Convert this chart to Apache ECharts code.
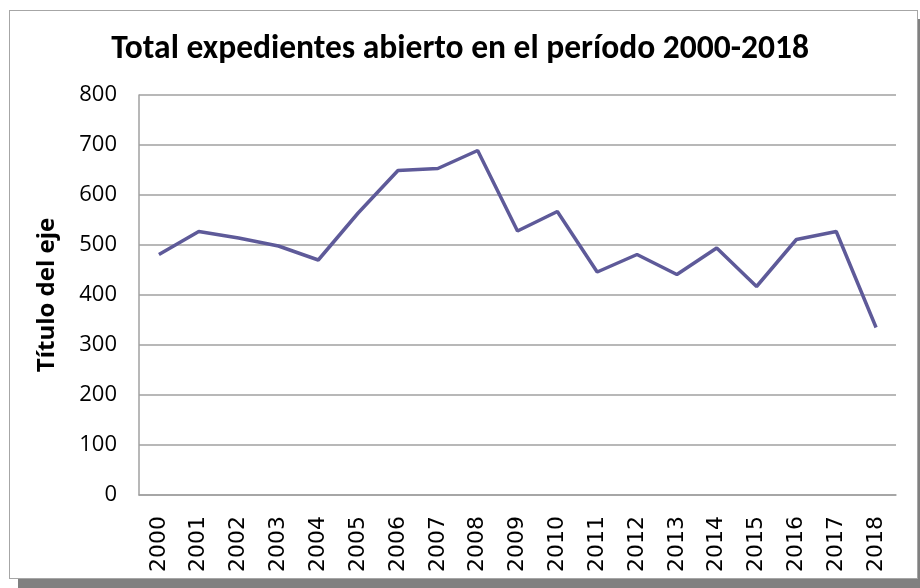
<!DOCTYPE html>
<html>
<head>
<meta charset="utf-8">
<script src="https://cdn.jsdelivr.net/npm/echarts@6/dist/echarts.min.js"></script>
<style>
  html, body { margin: 0; padding: 0; background: #fff; }
  #frame {
    position: absolute; left: 9px; top: 10px; width: 907px; height: 567px;
    border: 1px solid #a6a6a6; background: #fff;
    box-shadow: 9px 9px 0 0 #808080;
  }
  #chart { position: absolute; left: 0; top: 0; width: 920px; height: 588px; }
</style>
</head>
<body>
<div id="frame"></div>
<div id="chart"></div>
<script>
// datos
const years = ['2000', '2001', '2002', '2003', '2004', '2005', '2006', '2007', '2008', '2009',
  '2010', '2011', '2012', '2013', '2014', '2015', '2016', '2017', '2018']
const expedientes = [481, 527, 514, 498, 470, 564, 649, 653, 689, 528,
  567, 446, 481, 441, 494, 417, 511, 527, 335]
const yTicks = [0, 100, 200, 300, 400, 500, 600, 700, 800]

const chart = echarts.init(document.getElementById('chart'), null, { renderer: 'canvas' })

const option = {
  animation: false,
  backgroundColor: 'transparent',
  title: {
    text: 'Total expedientes abierto en el período 2000-2018',
    left: 'center',
    top: 28,
    textStyle: {
      fontFamily: 'Carlito, "Open Sans", sans-serif',
      fontWeight: 'bold',
      fontSize: 33.5,
      color: '#000'
    }
  },
  grid: { left: 139, right: 24, top: 95, bottom: 93 },
  xAxis: {
    type: 'category',
    data: years,
    boundaryGap: true,
    axisLine: { lineStyle: { color: '#a0a0a0', width: 1.5 } },
    axisTick: { show: false },
    axisLabel: {
      rotate: 90,
      margin: 21,
      fontFamily: 'DejaVu Sans',
      fontSize: 22,
      color: '#000'
    }
  },
  yAxis: {
    type: 'value',
    min: yTicks[0],
    max: yTicks[yTicks.length - 1],
    interval: 100,
    name: 'Título del eje',
    nameLocation: 'middle',
    nameGap: 80,
    nameTextStyle: {
      fontFamily: '"Open Sans", sans-serif',
      fontWeight: 'bold',
      fontSize: 24,
      color: '#000'
    },
    axisLine: { show: true, lineStyle: { color: '#a0a0a0', width: 1.5 } },
    axisTick: { show: false },
    axisLabel: {
      margin: 22,
      fontFamily: '"Open Sans", sans-serif',
      fontSize: 22,
      color: '#000'
    },
    splitLine: { lineStyle: { color: '#a0a0a0', width: 1.5 } }
  },
  series: [{
    type: 'line',
    data: expedientes,
    symbol: 'none',
    lineStyle: { color: '#5e5a99', width: 3.5 }
  }]
}

chart.setOption(option)
</script>
</body>
</html>
